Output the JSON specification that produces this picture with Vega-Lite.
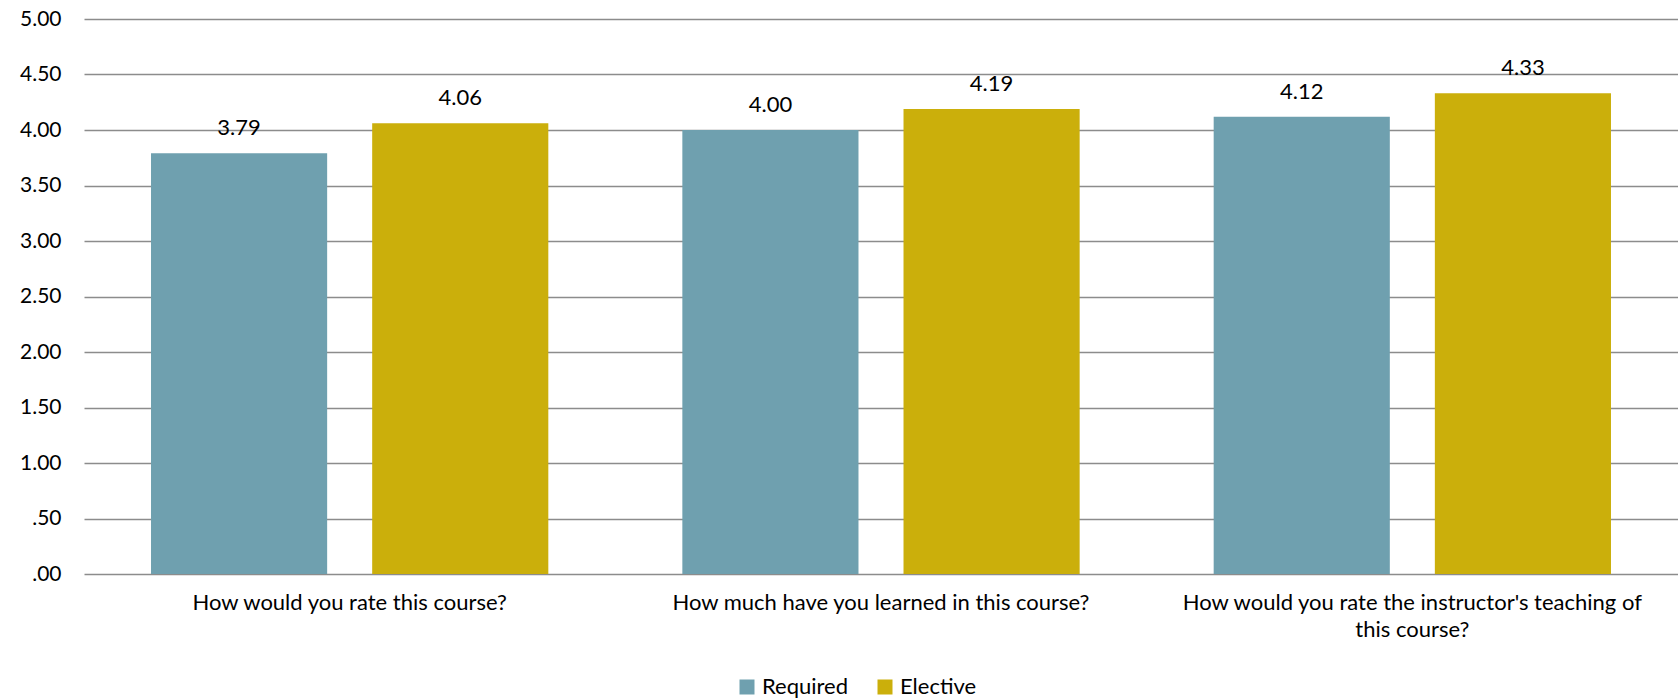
{
  "$schema": "https://vega.github.io/schema/vega-lite/v6.json",
  "width": 1594,
  "height": 555,
  "autosize": {"type": "none"},
  "padding": {"left": 84, "top": 19, "right": 0, "bottom": 125},
  "config": {
    "view": {"stroke": null},
    "font": "Lato",
    "text": {"font": "Lato"}
  },
  "data": {
    "values": [
      {"question": "How would you rate this course?", "type": "Required", "value": 3.79},
      {"question": "How would you rate this course?", "type": "Elective", "value": 4.06},
      {"question": "How much have you learned in this course?", "type": "Required", "value": 4.00},
      {"question": "How much have you learned in this course?", "type": "Elective", "value": 4.19},
      {"question": "How would you rate the instructor's teaching of this course?", "type": "Required", "value": 4.12},
      {"question": "How would you rate the instructor's teaching of this course?", "type": "Elective", "value": 4.33}
    ]
  },
  "encoding": {
    "x": {
      "field": "question",
      "type": "nominal",
      "sort": [
        "How would you rate this course?",
        "How much have you learned in this course?",
        "How would you rate the instructor's teaching of this course?"
      ],
      "scale": {"paddingInner": 0, "paddingOuter": 0},
      "axis": {
        "title": null,
        "labelAngle": 0,
        "labelFontSize": 22,
        "labelColor": "#000000",
        "labelPadding": 18,
        "labelLimit": 1000,
        "labelLineHeight": 27,
        "ticks": false,
        "domain": false,
        "labelExpr": "length(datum.label) > 50 ? [\"How would you rate the instructor's teaching of\", \"this course?\"] : datum.label"
      }
    },
    "xOffset": {
      "field": "type",
      "sort": ["Required", "Elective"],
      "scale": {"paddingInner": 0.2036, "paddingOuter": 0.303}
    },
    "y": {
      "field": "value",
      "type": "quantitative",
      "scale": {"domain": [0, 5], "nice": false},
      "axis": {
        "title": null,
        "values": [0, 0.5, 1, 1.5, 2, 2.5, 3, 3.5, 4, 4.5, 5],
        "labelExpr": "datum.value < 1 ? substring(format(datum.value, '.2f'), 1) : format(datum.value, '.2f')",
        "labelFontSize": 21,
        "labelColor": "#000000",
        "labelPadding": 23,
        "ticks": false,
        "domain": false,
        "grid": true,
        "gridColor": "#8c8c8c",
        "gridWidth": 1.5
      }
    }
  },
  "layer": [
    {
      "mark": {"type": "bar"},
      "encoding": {
        "color": {
          "field": "type",
          "type": "nominal",
          "sort": ["Required", "Elective"],
          "scale": {"domain": ["Required", "Elective"], "range": ["#6fa0af", "#cbaf0b"]},
          "legend": {
            "title": null,
            "orient": "none",
            "legendX": 652,
            "legendY": 657,
            "direction": "horizontal",
            "symbolType": "square",
            "symbolSize": 225,
            "symbolStrokeWidth": 0,
            "labelFontSize": 22,
            "labelColor": "#000000",
            "labelOffset": 4,
            "columnPadding": 25
          }
        }
      }
    },
    {
      "mark": {"type": "text", "baseline": "bottom", "dy": -13, "fontSize": 22, "color": "#000000"},
      "encoding": {
        "text": {"field": "value", "type": "quantitative", "format": ".2f"}
      }
    }
  ]
}
